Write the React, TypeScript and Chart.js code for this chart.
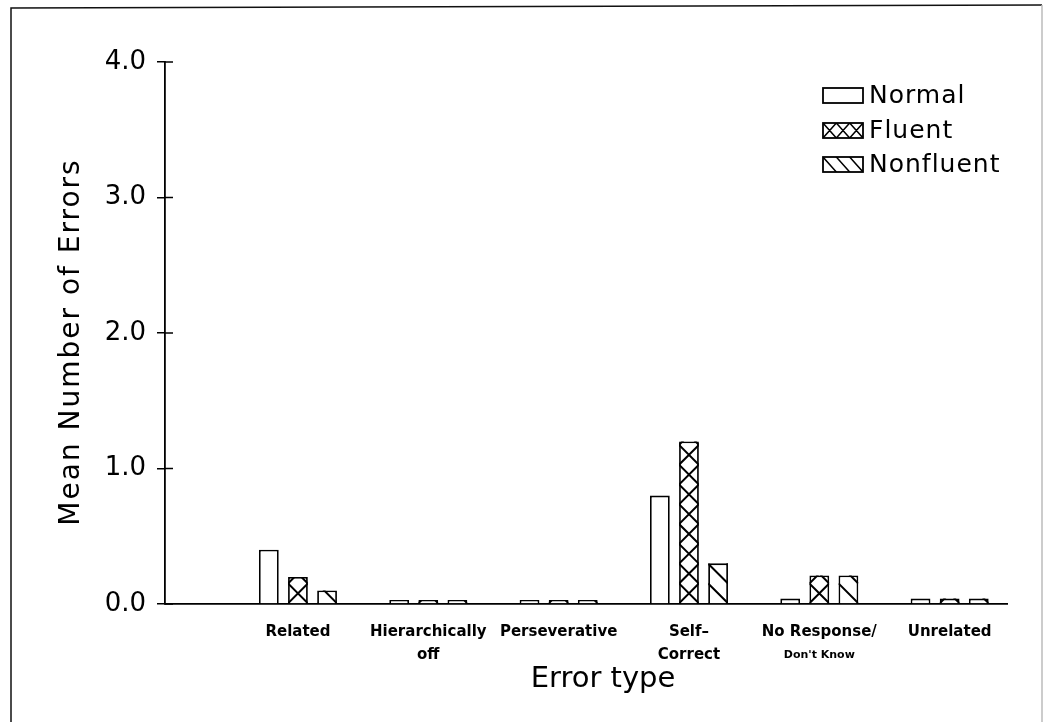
import React, { useEffect, useRef } from "react";
import { Chart, registerables } from "chart.js";

Chart.register(...registerables);

// ---- Data ----
const categoryLines: string[][] = [
  ["Related"],
  ["Hierarchically", "off"],
  ["Perseverative"],
  ["Self–", "Correct"],
  ["No Response/", "Don't Know"],
  ["Unrelated"],
];
const seriesNames = ["Normal", "Fluent", "Nonfluent"];
const normalValues = [0.4, 0.03, 0.03, 0.8, 0.04, 0.04];
const fluentValues = [0.2, 0.03, 0.03, 1.2, 0.21, 0.04];
const nonfluentValues = [0.1, 0.03, 0.03, 0.3, 0.21, 0.04];
const yTickValues = [0, 1, 2, 3, 4];
const yTitle = "Mean Number of Errors";
const xTitle = "Error type";

const FONT = "'DejaVu Sans', 'Liberation Sans', sans-serif";

function crossPath(ctx: CanvasRenderingContext2D, left: number, top: number, w: number, bottom: number, h: number) {
  for (let yb = bottom; yb > top - h; yb -= h) {
    ctx.moveTo(left, yb);
    ctx.lineTo(left + w, yb - h);
    ctx.moveTo(left, yb - h);
    ctx.lineTo(left + w, yb);
  }
}
function diagPath(ctx: CanvasRenderingContext2D, left: number, top: number, w: number, bottom: number, h: number) {
  for (let yb = bottom + h; yb > top - h; yb -= h) {
    ctx.moveTo(left, yb - h);
    ctx.lineTo(left + w, yb);
  }
}

const decorPlugin = {
  id: "decor",
  afterDatasetsDraw(chart: any) {
    const ctx: CanvasRenderingContext2D = chart.ctx;
    [1, 2].forEach((di) => {
      const meta = chart.getDatasetMeta(di);
      meta.data.forEach((el: any) => {
        const { x, y, base, width } = el.getProps(["x", "y", "base", "width"], true);
        const left = x - width / 2;
        const top = Math.min(y, base);
        const bottom = Math.max(y, base);
        ctx.save();
        ctx.beginPath();
        ctx.rect(left, top, width, bottom - top);
        ctx.clip();
        ctx.strokeStyle = "#000";
        ctx.lineWidth = 2;
        ctx.beginPath();
        if (di === 1) crossPath(ctx, left, top, width, bottom, width);
        else diagPath(ctx, left, top, width, bottom, width);
        ctx.stroke();
        ctx.restore();
      });
    });
  },
  afterDraw(chart: any) {
    const ctx: CanvasRenderingContext2D = chart.ctx;
    const yScale = chart.scales.y;
    const xScale = chart.scales.x;
    const area = chart.chartArea;
    ctx.save();
    // inner tick marks
    ctx.strokeStyle = "#000";
    ctx.lineWidth = 1.5;
    yScale.ticks.forEach((t: any) => {
      const py = yScale.getPixelForValue(t.value);
      ctx.beginPath();
      ctx.moveTo(area.left, py);
      ctx.lineTo(area.left + 8, py);
      ctx.stroke();
    });
    // page border
    ctx.lineWidth = 1.5;
    ctx.strokeStyle = "#111";
    ctx.beginPath();
    ctx.moveTo(11, 722);
    ctx.lineTo(11, 8);
    ctx.lineTo(1042, 5);
    ctx.stroke();
    ctx.strokeStyle = "#bbb";
    ctx.beginPath();
    ctx.moveTo(1042, 5);
    ctx.lineTo(1042, 722);
    ctx.stroke();

    // category labels
    ctx.fillStyle = "#000";
    ctx.textAlign = "center";
    ctx.textBaseline = "middle";
    categoryLines.forEach((lines, i) => {
      const px = xScale.getPixelForValue(i + 1);
      lines.forEach((ln, j) => {
        const small = j === 1 && i === 4;
        ctx.font = `bold ${small ? 11 : 15}px ${FONT}`;
        ctx.fillText(ln, px, 632 + j * 23);
      });
    });

    // x title
    ctx.font = `29px ${FONT}`;
    ctx.textBaseline = "alphabetic";
    ctx.fillText(xTitle, 603, 687);

    // y title
    ctx.save();
    ctx.translate(72, 342);
    ctx.rotate(-Math.PI / 2);
    ctx.font = `28px ${FONT}`;
    (ctx as any).letterSpacing = "2px";
    ctx.textAlign = "center";
    ctx.textBaseline = "middle";
    ctx.fillText(yTitle, 0, 0);
    ctx.restore();

    // legend
    const lx = 823, bw = 40, bh = 15;
    const rows = [88, 123, 157];
    seriesNames.forEach((name, i) => {
      const by = rows[i];
      ctx.fillStyle = "#fff";
      ctx.fillRect(lx, by, bw, bh);
      if (i > 0) {
        ctx.save();
        ctx.beginPath();
        ctx.rect(lx, by, bw, bh);
        ctx.clip();
        ctx.strokeStyle = "#000";
        ctx.lineWidth = 1.5;
        ctx.beginPath();
        for (let k = 0; k < 3; k++) {
          const cl = lx + (k * bw) / 3;
          if (i === 1) crossPath(ctx, cl, by, bw / 3, by + bh, bh);
          else diagPath(ctx, cl, by, bw / 3, by + bh, bh);
        }
        ctx.stroke();
        ctx.restore();
      }
      ctx.strokeStyle = "#000";
      ctx.lineWidth = 1.8;
      ctx.strokeRect(lx, by, bw, bh);
      ctx.fillStyle = "#000";
      ctx.font = `25px ${FONT}`;
      (ctx as any).letterSpacing = "1px";
      ctx.textAlign = "left";
      ctx.textBaseline = "middle";
      ctx.fillText(name, 869, by + bh / 2 + 1);
    });
    ctx.restore();
  },
};

export default function App() {
  const canvasRef = useRef<HTMLCanvasElement | null>(null);

  useEffect(() => {
    if (!canvasRef.current) return;
    const mk = (vals: number[]) => vals.map((v, i) => ({ x: i + 1, y: v }));
    const common = {
      backgroundColor: "#fff",
      borderColor: "#000",
      borderWidth: 1.8,
      categoryPercentage: 0.67,
      barPercentage: 0.68,
    };
    const chart = new Chart(canvasRef.current, {
      type: "bar",
      data: {
        datasets: [
          { label: seriesNames[0], data: mk(normalValues), ...common },
          { label: seriesNames[1], data: mk(fluentValues), ...common },
          { label: seriesNames[2], data: mk(nonfluentValues), ...common },
        ],
      },
      options: {
        animation: false,
        responsive: true,
        maintainAspectRatio: false,
        layout: { padding: { top: 62, right: 40, left: 0, bottom: 0 } },
        plugins: { legend: { display: false }, tooltip: { enabled: false } },
        scales: {
          x: {
            type: "linear",
            min: -0.02,
            max: 6.44,
            offset: false,
            afterBuildTicks: (s: any) => {
              s.ticks = categoryLines.map((_, i) => ({ value: i + 1 }));
            },
            ticks: { display: false },
            grid: { display: false },
            border: { display: true, color: "#000", width: 1.8 },
            afterFit: (s: any) => {
              s.height = 119;
            },
          },
          y: {
            min: 0,
            max: 4,
            afterBuildTicks: (s: any) => {
              s.ticks = yTickValues.map((v) => ({ value: v }));
            },
            ticks: {
              callback: (v: any) => Number(v).toFixed(1),
              font: { family: FONT, size: 26 },
              color: "#000",
              padding: 11,
            },
            grid: {
              display: true,
              drawOnChartArea: false,
              drawTicks: true,
              tickLength: 8,
              color: "#000",
              lineWidth: 1.5,
            },
            border: { display: true, color: "#000", width: 1.8 },
            afterFit: (s: any) => {
              s.width = 165;
            },
          },
        },
      },
      plugins: [decorPlugin],
    } as any);
    return () => chart.destroy();
  }, []);

  return (
    <div style={{ position: "fixed", left: 0, top: 0, width: 1047, height: 723, background: "#fff" }}>
      <canvas ref={canvasRef} />
    </div>
  );
}
